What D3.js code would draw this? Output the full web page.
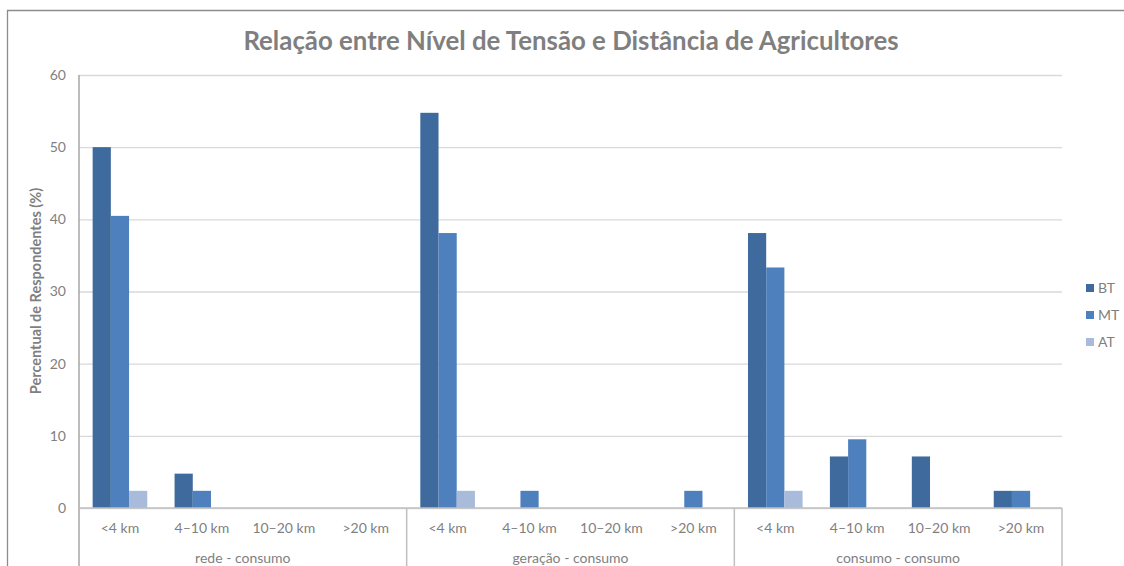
<!DOCTYPE html>
<html lang="pt">
<head>
<meta charset="UTF-8">
<title>Relação entre Nível de Tensão e Distância de Agricultores</title>
<script src="https://d3js.org/d3.v7.min.js"></script>
<style>
    body { margin: 0; background: #fff; }
    text { font-family: Lato, "Open Sans", sans-serif; }
</style>
</head>
<body>
<div id="chart"></div>
<script>
"use strict";

// data (percent of respondents)
const groups = ['rede - consumo', 'geração - consumo', 'consumo - consumo'];
const distances = ['<4 km', '4–10 km', '10–20 km', '>20 km'];
const series = ['BT', 'MT', 'AT'];
const colours = ['#3e6a9d', '#4e80bd', '#a9bbda'];

// one array per series, 12 values: groups x distances
const valuesBT = [50.0, 4.76, 0, 0,   54.76, 0, 0, 0,      38.10, 7.14, 7.14, 2.38];
const valuesMT = [40.48, 2.38, 0, 0,  38.10, 2.38, 0, 2.38, 33.33, 9.52, 0, 2.38];
const valuesAT = [2.38, 0, 0, 0,      2.38, 0, 0, 0,       2.38, 0, 0, 0];
const yTicks = [0, 10, 20, 30, 40, 50, 60];

const svgWidth = 1124, svgHeight = 566;
const margin = {top: 75, right: 62, bottom: 58, left: 79};
const width = svgWidth - margin.left - margin.right;
const height = svgHeight - margin.top - margin.bottom;

function translate(x, y) { return 'translate(' + x + ', ' + y + ')'; }

const allValues = [valuesBT, valuesMT, valuesAT];
const cats = [];
groups.forEach((g, gi) => distances.forEach((d, di) => cats.push({key: gi + '|' + d, group: g, dist: d, i: gi * 4 + di})));

const svg = d3.select('#chart').append('svg')
    .attr('width', svgWidth).attr('height', svgHeight);

// outer frame
svg.append('path')
    .attr('d', 'M7.5,566 V10.5 H1124')
    .attr('fill', 'none').attr('stroke', '#8c8c8c').attr('stroke-width', 1.3);

svg.append('text')
    .attr('x', 571).attr('y', 50)
    .attr('text-anchor', 'middle')
    .style('font-size', '25.8px').style('font-weight', 'bold').style('fill', '#7f7f7f')
    .text('Relação entre Nível de Tensão e Distância de Agricultores');

const g = svg.append('g').attr('transform', translate(margin.left, margin.top));

const x = d3.scaleBand().domain(cats.map(c => c.key)).range([0, width]);
const step = x.bandwidth();
const barW = step / 4.5;
const xs = d3.scaleBand().domain(series).range([0.75 * barW, 3.75 * barW]);
const y = d3.scaleLinear().domain([0, 60]).range([height, 0]);

// grid lines
g.append('g')
    .call(d3.axisLeft(y).tickValues(yTicks).tickSize(-width).tickFormat(''))
    .call(a => a.select('.domain').remove())
    .call(a => a.selectAll('line').attr('stroke', '#d9d9d9').attr('stroke-width', 1.3));

// y tick labels
g.append('g')
    .call(d3.axisLeft(y).tickValues(yTicks).tickSize(0).tickPadding(13))
    .call(a => a.select('.domain').remove())
    .call(a => a.selectAll('text').style('font-size', '14px').style('fill', '#7f7f7f').style('font-family', 'Lato, sans-serif'));

// bars
series.forEach((s, si) => {
    g.selectAll('.bar-' + s)
        .data(cats.filter(c => allValues[si][c.i] > 0))
        .enter().append('rect')
        .attr('x', c => x(c.key) + xs(s))
        .attr('y', c => y(allValues[si][c.i]))
        .attr('width', xs.bandwidth())
        .attr('height', c => height - y(allValues[si][c.i]))
        .attr('fill', colours[si]);
});

// axes lines
g.append('line').attr('x1', 0).attr('x2', 0).attr('y1', 0).attr('y2', height + margin.bottom)
    .attr('stroke', '#a6a6a6').attr('stroke-width', 1.5);
g.append('line').attr('x1', 0).attr('x2', width).attr('y1', height).attr('y2', height)
    .attr('stroke', '#bfbfbf').attr('stroke-width', 1.5);

// group separators
groups.forEach((grp, gi) => {
    const xr = x(gi + '|' + distances[3]) + step;
    g.append('line').attr('x1', xr).attr('x2', xr).attr('y1', height).attr('y2', height + margin.bottom)
        .attr('stroke', '#bfbfbf').attr('stroke-width', 1.5);
    const xc = x(gi + '|' + distances[0]) + 2 * step;
    g.append('text').attr('x', xc).attr('y', height + 55)
        .attr('text-anchor', 'middle')
        .style('font-size', '14px').style('fill', '#7f7f7f')
        .text(grp);
});

// distance labels
g.selectAll('.dist')
    .data(cats).enter().append('text')
    .attr('x', c => x(c.key) + step / 2)
    .attr('y', height + 25)
    .attr('text-anchor', 'middle')
    .style('font-size', '14px').style('fill', '#7f7f7f')
    .text(c => c.dist);

// y axis title
svg.append('text')
    .attr('transform', translate(41, 291) + ' rotate(-90)')
    .attr('text-anchor', 'middle')
    .style('font-size', '14.5px').style('font-weight', 'bold').style('fill', '#7f7f7f')
    .text('Percentual de Respondentes (%)');

// legend
const legend = svg.append('g').attr('transform', translate(1086, 282));
series.forEach((s, si) => {
    const item = legend.append('g').attr('transform', translate(0, si * 27));
    item.append('rect').attr('width', 8).attr('height', 8).attr('y', 2).attr('fill', colours[si]);
    item.append('text').attr('x', 12).attr('y', 11)
        .style('font-size', '14px').style('fill', '#7f7f7f')
        .text(s);
});
</script>
</body>
</html>
